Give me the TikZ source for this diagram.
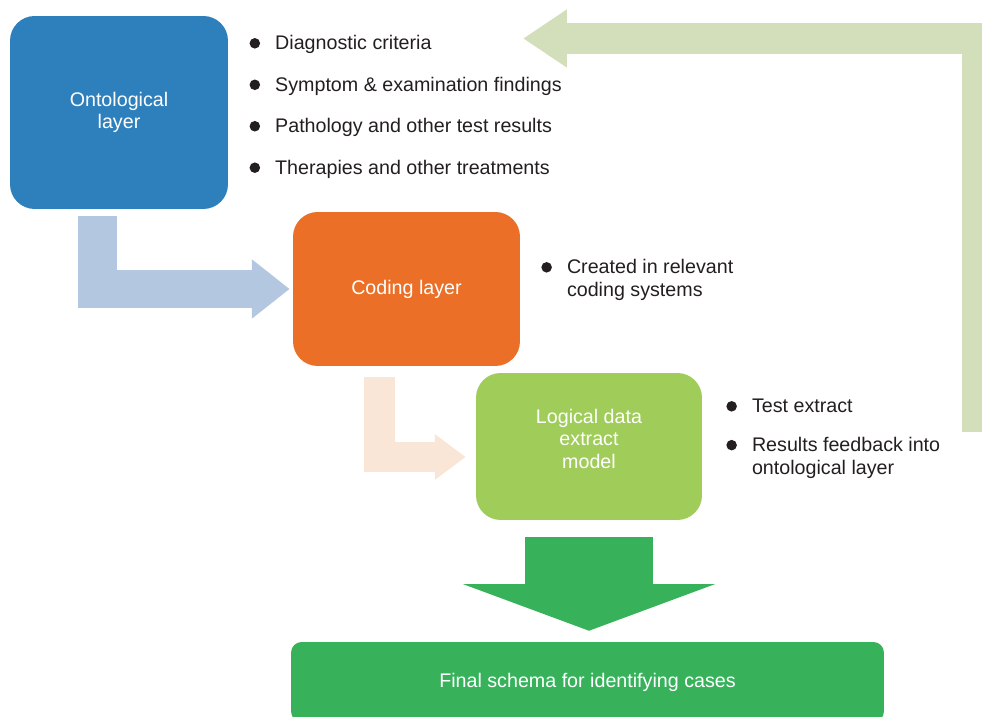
\documentclass[tikz,border=0pt]{standalone}
\usepackage{fontspec}
\setmainfont{Liberation Sans}
\usepackage{pgf,tikz}
\usetikzlibrary{arrows.meta,calc}
\definecolor{ontoblue}{RGB}{46,128,189}
\definecolor{codeorange}{RGB}{235,111,38}
\definecolor{logicgreen}{RGB}{160,204,90}
\definecolor{finalgreen}{RGB}{55,178,91}
\definecolor{paleblue}{RGB}{180,199,224}
\definecolor{palepeach}{RGB}{249,230,214}
\definecolor{palegreen}{RGB}{211,222,186}
\definecolor{txtgrey}{RGB}{35,31,32}
\newcommand{\dotmark}{\tikz[baseline=-3.8pt]\fill[txtgrey] (0,0) circle (3pt);}

\begin{document}
\begin{tikzpicture}[x=0.02cm,y=0.02cm,font=\fontsize{11.2}{12.8}\selectfont,
	layerbox/.style={rounded corners=14pt,inner sep=0pt,text=white,align=center},
	bigarrow/.style={line join=miter,line cap=butt},
	bulletlist/.style={anchor=base west,inner sep=0pt,text=txtgrey}]
		\clip (0,0) rectangle (982,716);
		% the four layers
		\node[layerbox,fill=ontoblue,minimum width=4.36cm,minimum height=3.86cm] (onto) at (119,603.5) {Ontological\\layer};
		\node[layerbox,fill=codeorange,minimum width=4.54cm,minimum height=3.08cm] (coding) at (406.5,427) {Coding layer};
		\node[layerbox,fill=logicgreen,minimum width=4.52cm,minimum height=2.94cm] (logic) at (589,269.5) {};
		\node[text=white,align=center,inner sep=0pt] (logictext) at ($(logic)+(0,8)$) {Logical data\\extract\\model};
		\node[layerbox,fill=finalgreen,rounded corners=6pt,minimum width=11.86cm,minimum height=1.6cm] (final) at (587.5,34) {Final schema for identifying cases};
		% bullet lists
		\node[bulletlist] (ontolist) at (249.2,666) {\begin{tabular}[t]{@{}l@{\hspace{8.6pt}}l@{}}
			\dotmark & Diagnostic criteria\\[10.8pt]
			\dotmark & Symptom \& examination findings\\[10.8pt]
			\dotmark & Pathology and other test results\\[10.8pt]
			\dotmark & Therapies and other treatments
		\end{tabular}};
		\node[bulletlist] (codinglist) at (541,442) {\begin{tabular}[t]{@{}l@{\hspace{8.6pt}}l@{}}
			\dotmark & Created in relevant\\
			 & coding systems
		\end{tabular}};
		\node[bulletlist] (logiclist) at (726,303) {\begin{tabular}[t]{@{}l@{\hspace{8.6pt}}l@{}}
			\dotmark & Test extract\\[9.3pt]
			\dotmark & Results feedback into\\
			 & ontological layer
		\end{tabular}};
		% block arrows
		\coordinate (blstart) at (97.5,500);
		\draw[bigarrow,paleblue,line width=22.1pt,-{Triangle[width=32.3pt,length=21.5pt]},shorten >=1.7pt] (blstart) |- (coding.west);
		\coordinate (pcstart) at (379.5,339);
		\draw[bigarrow,palepeach,line width=17.6pt,-{Triangle[width=25pt,length=17.6pt]}] (pcstart) |- ($(logic.west)+(-10,-10.5)$);
		\draw[bigarrow,finalgreen,line width=72.6pt,-{Triangle[width=142.9pt,length=26.6pt]},shorten <=9.6pt,shorten >=6.2pt] (logic.south) -- (logic.south |- final.north);
		\coordinate (fbstart) at (977.5,284);
		\coordinate (fbend) at (523,677.5);
		\draw[bigarrow,palegreen,line width=17.6pt,-{Triangle[width=31.2pt,length=24.9pt]}] (fbstart) |- (fbend);
\end{tikzpicture}
\end{document}
